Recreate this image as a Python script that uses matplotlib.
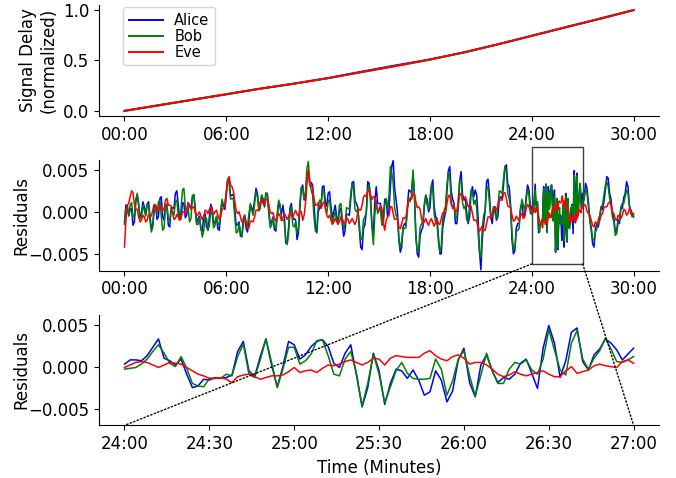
import numpy as np
import matplotlib
matplotlib.use("Agg")
import matplotlib.pyplot as plt
from matplotlib.patches import Rectangle, ConnectionPatch
from matplotlib.ticker import FuncFormatter, MultipleLocator

plt.rcParams["font.size"] = 12

# normalized signal delay, one value every 2 minutes
delay_t = [0, 2, 4, 6, 8, 10, 12, 14, 16, 18, 20, 22, 24, 26, 28, 30]
delay_alice = [0.0, 0.055, 0.11, 0.165, 0.22, 0.27, 0.325, 0.39, 0.452, 0.51,
               0.58, 0.66, 0.745, 0.83, 0.912, 1.0]
delay_bob = [0.0, 0.054, 0.11, 0.164, 0.22, 0.27, 0.325, 0.386, 0.446, 0.508,
             0.58, 0.66, 0.744, 0.83, 0.914, 1.0]
delay_eve = [0.0, 0.055, 0.11, 0.165, 0.22, 0.27, 0.325, 0.385, 0.445, 0.51,
             0.58, 0.66, 0.745, 0.83, 0.915, 1.0]

# residuals (x1e-3), every 5 s from 00:00 to 23:55 (12 per row = 1 minute)
alice_early = [
    -1.2, 0.8, 0.8, -0.5, 0.3, 0.4, -1.6, -1.2, 1.2, 2.0, 0.8, -0.7,
    -0.2, 1.2, 0.6, -0.3, 0.9, 1.2, -0.5, -2.0, -1.5, 0.6, 0.8, -0.9,
    -0.6, 1.6, 1.8, -0.6, -1.0, 0.8, 0.6, -1.6, -1.8, 0.4, 0.5, 0.4,
    2.2, 2.5, 0.9, -0.9, -0.8, 1.1, 1.0, -0.7, -0.4, 1.1, 0.7, 0.3,
    1.9, 2.0, 0.2, -1.3, -0.8, -0.5, -2.1, -2.3, -0.5, -0.2, -1.8, -2.2,
    -0.6, 0.9, 0.4, -1.4, -1.2, -0.6, -2.0, -2.2, -0.3, 1.1, 0.6, 0.3,
    2.0, 3.9, 3.8, 1.9, 2.0, 2.1, 0.2, -1.6, -1.5, -1.2, -2.9, -2.9,
    -0.8, -0.4, -2.0, -2.4, -0.9, 0.8, 0.5, 0.0, 1.5, 2.8, 2.2, 0.5,
    0.8, 2.0, 1.2, 0.6, 2.1, 2.2, 0.3, -1.4, -1.2, -0.6, -2.1, -2.3,
    -0.5, 1.0, 0.6, -0.3, 0.8, -0.5, -3.7, -3.8, -1.9, 0.5, 1.0, -0.9,
    -0.8, -1.0, -3.3, -2.5, 0.4, 2.8, 3.2, 1.4, 1.5, 4.2, 4.8, 3.2,
    3.5, 3.2, 1.0, -1.7, -2.5, 0.0, 0.5, 0.8, 3.0, 3.1, 1.2, 0.7,
    2.2, 2.4, 0.6, -0.7, 0.0, 0.8, -0.5, -1.2, 0.2, 0.4, -1.5, -2.9,
    -2.2, -0.3, -0.3, -0.4, 1.5, 3.5, 3.6, 1.3, 1.0, 0.5, -2.0, -4.2,
    -4.5, -2.0, -1.5, 0.0, 3.6, 3.4, 1.2, -1.6, -2.5, 1.2, 3.0, 1.0,
    1.0, 1.0, -1.0, -0.8, 1.5, 1.5, -0.5, 0.2, 3.0, 5.5, 6.1, 2.8,
    1.5, 0.0, -3.4, -4.8, -4.2, -1.8, -1.4, -1.6, 0.6, 2.6, 2.5, 2.2,
    4.6, 2.0, -2.6, -5.0, -5.4, -2.8, -2.2, -1.8, 0.6, 2.0, 1.5, 0.0,
    0.5, 3.1, 3.8, 0.6, -0.6, -0.8, -3.0, -5.0, -5.0, -1.9, -0.8, -0.1,
    2.5, 4.9, 5.4, 2.5, 1.5, 1.0, -1.4, -1.4, 0.6, 3.7, 4.8, 2.1,
    1.4, 1.6, -0.2, -1.4, -0.6, 2.2, 3.0, 1.8, 2.6, 2.0, -0.6, -4.7,
    -6.9, -3.2, -1.4, 0.1, 3.6, 3.9, 2.2, -0.6, -1.4, 0.6, 0.6, -1.0,
    -0.6, 1.6, 1.8, 1.5, 3.2, 5.4, 5.6, 3.3, 3.0, 0.8, -3.4, -5.0,
    -4.6, -2.0, -1.4, -1.4, 0.5, 1.0, -0.5, -0.4, 1.8, 3.2, 2.6, 0.5,
]
bob_early = [
    -1.5, 0.4, 0.4, -0.4, 0.8, 1.1, -0.6, -0.6, 1.4, 2.2, 1.0, -0.8,
    -0.6, 0.8, 0.2, -0.5, 0.8, 0.9, -1.0, -2.4, -1.8, 0.2, 0.2, -0.3,
    1.2, 1.4, -0.5, -2.2, -1.9, 0.6, 1.0, -1.0, -1.0, 0.5, 0.0, -0.4,
    1.2, 1.4, -0.4, -1.0, 0.4, 2.6, 2.8, 0.5, 0.2, 0.5, -1.2, -0.8,
    1.6, 2.1, 0.6, -1.5, -1.5, -0.7, -1.8, -3.0, -2.3, -0.6, -0.8, -2.2,
    -1.6, 0.1, -0.2, -1.9, -1.6, -0.5, -1.4, -1.6, 0.2, 1.5, 0.8, 0.6,
    2.4, 3.9, 3.4, 1.5, 1.6, 1.5, -0.6, -2.5, -2.4, -1.4, -2.4, -3.0,
    -1.6, -0.4, -1.2, -1.7, -0.2, 1.0, 0.2, -0.4, 1.0, 2.4, 1.8, 0.1,
    0.4, 2.0, 1.6, 1.0, 2.3, 2.0, -0.2, -1.9, -1.6, -0.7, -1.8, -2.0,
    -0.2, 1.4, 0.9, -1.0, -1.0, -1.1, -3.2, -3.9, -2.6, 0.0, 0.6, -1.6,
    -1.8, -1.2, -2.6, -1.8, 1.0, 2.9, 2.8, 1.6, 2.4, 5.2, 6.0, 3.3,
    2.6, 2.0, -0.6, -2.3, -2.0, 0.7, 1.4, 1.0, 2.6, 2.5, 0.4, -0.2,
    1.2, 1.5, -0.2, -1.4, -0.6, 0.1, -1.2, -1.2, 0.8, 1.0, -0.8, -2.1,
    -1.4, 0.5, 0.4, 0.3, 2.2, 3.4, 2.6, 0.3, 0.0, 0.3, -1.4, -3.3,
    -3.2, -0.9, -0.6, 0.0, 2.6, 3.2, 1.8, -2.0, -3.9, -0.3, 1.4, -0.2,
    0.2, 0.3, -1.6, -1.4, 0.8, 1.6, 0.4, 1.9, 5.4, 4.6, 3.4, 0.5,
    -0.4, -0.7, -3.0, -4.3, -3.6, -1.8, -2.0, -1.9, 0.2, 1.7, 1.2, 2.1,
    5.0, 2.0, -3.0, -4.7, -4.4, -1.9, -1.4, -1.2, 1.0, 1.9, 0.8, 0.3,
    1.8, 3.2, 2.6, -0.3, -1.2, -1.4, -3.6, -4.8, -4.0, -0.9, 0.2, 0.7,
    3.2, 4.7, 4.2, 1.3, 0.4, 0.8, -0.8, -0.6, 1.6, 3.7, 3.8, 1.1,
    0.4, 0.7, -1.0, -1.1, 0.8, 2.6, 2.4, 0.9, 1.4, 0.5, -2.4, -4.9,
    -5.4, -1.9, -0.4, 0.2, 2.8, 3.0, 1.2, -0.7, -0.6, 0.6, -0.2, -0.8,
    0.6, 2.5, 2.4, 2.2, 4.0, 5.4, 4.8, 2.2, 1.6, 0.5, -2.6, -4.5,
    -4.4, -2.3, -2.2, -2.0, 0.2, 1.5, 0.8, 0.1, 1.4, 2.7, 2.0, -0.2,
]
eve_early = [
    -4.2, -1.0, 0.8, 1.0, 1.8, 2.5, 2.3, 0.9, 0.4, 0.3, -0.6, -1.2,
    -1.0, -0.4, -0.6, -1.2, -1.0, -0.3, -0.4, -0.5, 0.2, 0.9, 0.8, 0.1,
    0.2, 0.8, 0.6, 0.1, 0.4, 1.4, 1.6, 0.8, 0.8, 0.7, -0.2, -0.9,
    -0.8, -0.3, -0.6, -1.0, -0.7, 0.0, 0.0, -0.2, 0.4, 1.0, 0.8, 0.3,
    0.5, 0.6, 0.0, -0.5, -0.3, 0.0, -0.5, -0.9, -0.6, 0.2, 0.1, -0.2,
    0.3, 0.6, 0.2, -0.3, 0.0, 0.2, -0.4, -0.9, -0.6, 0.3, 0.4, 1.0,
    2.4, 3.7, 4.2, 3.2, 3.0, 2.5, 1.2, 0.1, -0.2, 0.0, -0.6, -1.2,
    -1.0, -0.7, -1.2, -2.0, -1.9, -1.1, -1.1, -1.2, -0.6, 0.2, 0.2, 0.3,
    1.2, 1.5, 1.0, 0.8, 1.4, 1.6, 0.9, 0.0, -0.2, -0.1, -0.8, -1.1,
    -0.6, -0.2, -0.5, -1.0, -0.7, -0.2, -0.5, -0.9, -0.6, -0.1, -0.4, -0.7,
    -0.2, 0.2, -0.3, -0.5, 0.1, 0.0, -1.0, -0.4, 1.0, 3.4, 5.0, 3.7,
    3.2, 2.8, 1.5, 0.8, 0.8, 1.1, 0.6, 0.4, 0.9, 1.2, 0.6, -0.4,
    -0.7, -0.4, -1.0, -1.5, -1.2, -0.8, -1.1, -1.5, -1.2, -0.6, -0.8, -1.4,
    -1.2, -0.7, -0.9, -1.4, -1.1, -0.8, -1.2, -1.5, -1.0, 0.0, 0.3, 0.2,
    0.8, 1.8, 2.0, 1.8, 2.4, 2.6, 2.0, 1.5, 1.8, 1.8, 0.9, 0.2,
    0.3, 0.8, 0.4, -1.3, -2.2, -1.0, -0.6, -0.4, 0.6, 0.6, -0.2, -0.9,
    -0.8, -0.9, -1.8, -2.0, -1.4, -0.7, -0.8, -0.6, 0.4, 1.4, 1.6, 1.5,
    2.2, 2.1, 1.2, 0.5, 0.6, 0.3, -0.8, -1.4, -1.2, -0.8, -1.3, -1.6,
    -1.1, -0.8, -1.3, -1.7, -1.2, -0.9, -1.4, -1.5, -0.8, -0.1, -0.2, 0.0,
    1.0, 1.9, 2.0, 0.9, 0.6, 0.7, 0.0, 0.1, 1.0, 2.0, 2.2, 1.5,
    1.6, 1.8, 1.2, 0.6, 0.8, 0.7, -0.2, -1.0, -1.0, -1.0, -1.8, -2.3,
    -2.0, -1.7, -2.2, -2.2, -1.4, -0.6, -0.6, -0.8, -0.2, 0.5, 0.4, 0.2,
    0.8, 1.5, 1.4, 1.4, 2.2, 2.3, 1.6, 0.7, 0.6, 0.5, -0.4, -1.1,
    -1.0, -0.5, -0.8, -1.0, -0.4, -0.2, -0.8, -0.6, 0.4, 0.9, 0.6, 0.1,
]

# residuals (x1e-3), every 2 s from 24:00 to 27:00 (10 per row = 20 s)
alice_zoom = [
    0.3, 0.8, 0.8, 0.7, 1.3, 2.3, 3.3, 1.0, 0.7, 0.2,
    0.9, -0.9, -2.5, -2.3, -1.5, -1.6, -1.3, -1.4, -1.3, -1.0,
    1.8, 3.0, -0.5, -1.2, 1.2, 3.3, 0.2, -2.4, 0.0, 3.0,
    2.6, 0.9, 1.4, 2.4, 3.0, 3.2, 2.4, 0.4, -0.1, 1.6,
    2.6, -1.0, -4.8, -2.5, 1.6, -0.5, -4.5, -2.0, -0.3, -0.5,
    -1.4, -0.4, -1.6, -3.4, -3.0, -0.5, -1.6, -4.2, -2.9, 0.8,
    2.2, -1.9, -3.6, 0.2, 1.4, -0.5, -1.9, -1.3, -1.5, -0.9,
    0.4, 0.9, -0.8, -2.6, 2.2, 4.9, 2.8, -1.3, 0.7, 4.1,
    4.6, 0.6, -0.4, 1.4, 2.1, 3.3, 2.8, 2.0, 0.8, 1.5,
    2.2,
]
bob_zoom = [
    -0.3, -0.2, -0.1, 0.3, 0.9, 1.8, 2.6, 1.6, 0.4, 0.0,
    1.2, -0.2, -2.0, -2.3, -2.4, -1.4, -1.4, -1.4, -0.9, -1.1,
    1.2, 2.7, -0.9, -1.3, 0.8, 3.3, 0.5, -2.5, -0.3, 2.3,
    2.3, 0.3, 0.7, 1.5, 3.1, 3.2, 1.3, -0.9, -1.1, 0.9,
    1.8, -0.8, -4.7, -2.0, 1.5, -0.9, -4.3, -2.4, -0.5, 0.5,
    -0.8, -1.4, -1.5, -1.5, -1.4, 0.9, -0.3, -3.4, -1.7, 0.9,
    1.9, -1.1, -3.5, -1.0, 1.6, -0.5, -2.0, -2.0, -0.3, 0.5,
    0.3, 0.8, -0.4, -0.9, 0.9, 4.4, 2.0, -0.4, -1.0, 2.8,
    4.3, 0.9, -0.3, 1.0, 1.9, 3.4, 2.1, 0.6, 0.5, 0.8,
    1.2,
]
eve_zoom = [
    -0.1, 0.2, 0.5, 0.6, 0.5, 0.2, -0.1, 0.2, 0.5, 0.4,
    0.3, -0.1, -0.5, -0.9, -1.1, -1.4, -1.4, -1.3, -1.5, -1.9,
    -1.2, -1.0, -0.9, -1.2, -1.5, -1.3, -1.1, -1.1, -1.0, -0.6,
    -0.1, -0.7, -0.5, -0.4, -0.7, -0.2, 0.2, 0.1, 0.3, 0.6,
    0.8, 0.5, 0.2, 0.5, 1.0, 0.9, 0.2, 1.0, 1.3, 1.2,
    1.1, 1.1, 1.1, 1.6, 1.9, 1.3, 0.9, 0.7, 1.2, 1.4,
    1.0, 0.3, 0.5, 0.5, 0.2, -0.3, -0.9, -1.2, -1.0, -0.6,
    -0.9, -1.1, -0.9, -0.7, -0.5, -0.9, -1.2, -1.2, -0.5, 0.0,
    -0.8, -0.6, -0.4, 0.1, 0.3, 0.1, 0.0, -0.1, 0.6, 0.8,
    0.4,
]

# residuals (x1e-3), every 5 s from 27:05 to 30:00
alice_late = [1.8, 3.4, 2.8, 1.2, -1.0, -2.2, -3.8, -4.2, -2.0, -1.4, -1.8, -0.8,
              0.6, 0.3, 1.2, 2.6, 4.2, 4.0, 2.2, 1.5, -0.2, -0.6, -2.4, -2.2,
              -0.9, -1.4, 0.5, 0.4, 1.7, 2.2, 3.6, 3.0, 0.8, 0.2, -0.2, -0.6]
bob_late = [1.4, 2.8, 2.2, 0.6, -0.8, -1.8, -3.2, -3.4, -2.4, -2.0, -0.9, -0.4,
            0.6, 0.8, 2.0, 3.2, 3.6, 3.0, 1.6, 0.8, -0.6, -1.2, -2.8, -2.6,
            -1.4, -0.8, 0.6, 1.0, 1.0, 1.8, 2.6, 2.2, 0.6, -0.2, -0.6, -0.4]
eve_late = [0.9, 0.8, 0.1, -0.2, -0.4, -1.0, -1.6, -1.8, -1.2, -1.4, -1.4, -1.0,
            -0.4, -0.2, 0.5, 0.6, 0.6, 1.0, 1.2, 0.8, 0.0, -0.2, -0.9, -1.0,
            -0.4, -0.6, -0.8, -0.4, 0.3, 0.2, -0.4, -0.2, 0.4, 0.2, -0.3, -0.2]

names = ["Alice", "Bob", "Eve"]
colors = ["blue", "green", "red"]

t_zoom = 24 + np.arange(len(alice_zoom)) * 2 / 60.0

series = [
    (alice_early, alice_zoom, alice_late),
    (bob_early, bob_zoom, bob_late),
    (eve_early, eve_zoom, eve_late),
]
delays = [delay_alice, delay_bob, delay_eve]


def mmss(x, pos):
    m = int(np.floor(x + 1e-9))
    s = int(round((x - m) * 60))
    return "%02d:%02d" % (m, s)


fig, (ax1, ax2, ax3) = plt.subplots(3, 1, figsize=(6.76, 4.78), dpi=100)
fig.subplots_adjust(left=0.1465, right=0.975, bottom=0.110, top=0.9895, hspace=0.396)

lw = 1.1
for name, c, d in zip(names, colors, delays):
    ax1.plot(delay_t, d, color=c, lw=lw + 0.3, label=name)
ax1.set_ylabel("Signal Delay\n(normalized)")
ax1.yaxis.set_major_locator(MultipleLocator(0.5))
ax1.legend(loc="upper left", bbox_to_anchor=(0.03, 1.045), fontsize=10.5,
           labelspacing=0.05, handlelength=2.3)

for (early, zoom, late), c in zip(series, colors):
    t = np.concatenate([np.arange(len(early)) / 12.0, t_zoom,
                        27 + np.arange(1, len(late) + 1) / 12.0])
    vals = np.concatenate([early, zoom, late]) * 1e-3
    ax2.plot(t, vals, color=c, lw=lw)
    ax3.plot(t_zoom, np.array(zoom) * 1e-3, color=c, lw=lw)

ylo, yhi = -0.0070, 0.0062
for ax in (ax2, ax3):
    ax.set_ylim(ylo, yhi)
    ax.yaxis.set_major_locator(MultipleLocator(0.005))
    ax.set_ylabel("Residuals")
    ax.yaxis.set_label_coords(-0.123, 0.5)

for ax in (ax1, ax2):
    ax.xaxis.set_major_locator(MultipleLocator(6))
ax3.xaxis.set_major_locator(MultipleLocator(0.5))
ax3.set_xlabel("Time (Minutes)")

for ax in (ax1, ax2, ax3):
    ax.xaxis.set_major_formatter(FuncFormatter(mmss))
    ax.spines["top"].set_visible(False)
    ax.spines["right"].set_visible(False)

# zoom box on the middle panel + connector lines to the bottom panel
rect_lo, rect_hi = -0.0062, 0.0077
rect = Rectangle((24, rect_lo), 3, rect_hi - rect_lo, fill=False,
                 edgecolor="0.25", lw=1.0, clip_on=False, zorder=5)
ax2.add_patch(rect)
for x in (24, 27):
    con = ConnectionPatch(xyA=(x, rect_lo), coordsA=ax2.transData,
                          xyB=(x, ylo), coordsB=ax3.transData,
                          linestyle=":", color="k", lw=1.0)
    fig.add_artist(con)

fig.savefig("out.png", dpi=100)
